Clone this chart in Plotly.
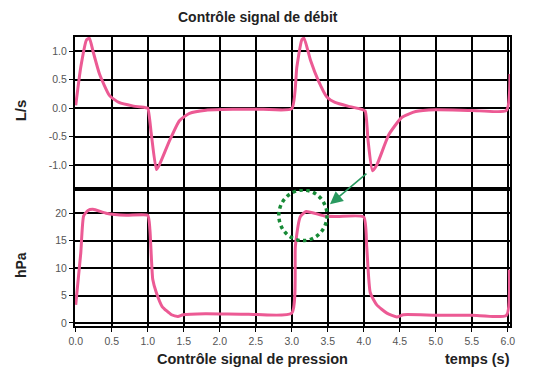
import plotly.graph_objects as go
from plotly.subplots import make_subplots

# ---- data ----
t_flow = [0.0, 0.07, 0.15, 0.19, 0.24, 0.33, 0.47, 0.6, 0.79, 0.96, 1.0, 1.05, 1.12, 1.16,
          1.3, 1.44, 1.58, 1.81, 2.18, 2.6, 3.0, 3.07, 3.14, 3.17, 3.26, 3.37, 3.49, 3.6,
          3.78, 3.97, 4.02, 4.06, 4.12, 4.18, 4.35, 4.53, 4.72, 5.0, 5.5, 5.98, 6.03]
flow = [0.05, 0.72, 1.2, 1.23, 1.0, 0.6, 0.22, 0.1, 0.04, 0.01, 0.0, -0.46, -1.08, -1.0,
        -0.58, -0.22, -0.09, -0.035, -0.02, -0.02, -0.01, 0.72, 1.2, 1.23, 0.84, 0.48, 0.19, 0.1,
        0.035, -0.02, -0.05, -0.58, -1.1, -1.0, -0.46, -0.16, -0.06, -0.03, -0.04, -0.04, 0.6]

t_press = [0.0, 0.07, 0.11, 0.17, 0.24, 0.42, 0.7, 1.0, 1.03, 1.07, 1.12, 1.2, 1.33, 1.42,
           1.49, 1.8, 2.4, 3.0, 3.05, 3.12, 3.2, 3.45, 3.63, 4.0, 4.04, 4.09, 4.18, 4.32,
           4.46, 4.55, 5.0, 5.5, 5.98, 6.02]
press = [3.3, 12.7, 19.5, 20.5, 20.7, 20.0, 19.6, 19.6, 17.0, 7.9, 5.5, 3.0, 1.5, 1.2,
         1.5, 1.7, 1.6, 1.8, 14.0, 19.4, 20.3, 19.5, 19.4, 19.3, 14.0, 5.5, 3.3, 1.8,
         1.1, 1.5, 1.4, 1.4, 1.4, 9.7]

x_ticks = [0.0, 0.5, 1.0, 1.5, 2.0, 2.5, 3.0, 3.5, 4.0, 4.5, 5.0, 5.5, 6.0]
x_labels = ["0.0", "0.5", "1.0", "1.5", "2.0", "2.5", "3.0", "3.5", "4.0", "4.5", "5.0", "5.5", "6.0"]
flow_ticks = [1.0, 0.5, 0.0, -0.5, -1.0]
flow_labels = ["1.0", "0.5", "0.0", "-0.5", "-1.0"]
press_ticks = [0, 5, 10, 15, 20]
press_labels = ["0", "5", "10", "15", "20"]

PINK = "#ec5a94"
FONT = "Liberation Sans, Arial, sans-serif"

fig = make_subplots(rows=2, cols=1, shared_xaxes=True, vertical_spacing=0,
                    row_heights=[152, 137])

fig.add_trace(go.Scatter(x=t_flow, y=flow, mode="lines",
                         line=dict(color=PINK, width=3, shape="spline", smoothing=0.5),
                         showlegend=False), row=1, col=1)
fig.add_trace(go.Scatter(x=t_press, y=press, mode="lines",
                         line=dict(color=PINK, width=3, shape="spline", smoothing=0.5),
                         showlegend=False), row=2, col=1)

axis_common = dict(showline=True, mirror=True, linecolor="black", linewidth=2,
                   showgrid=True, gridcolor="black", gridwidth=1.5,
                   zeroline=False, ticks="outside", ticklen=4, tickcolor="black",
                   tickwidth=1, tickfont=dict(family=FONT, size=10.5, color="#555"))

fig.update_xaxes(range=[-0.01, 6.03], tickvals=x_ticks, ticktext=x_labels, **axis_common)
fig.update_xaxes(showticklabels=False, ticks="", row=1, col=1)
fig.update_yaxes(range=[-1.42, 1.25], tickvals=flow_ticks, ticktext=flow_labels,
                 row=1, col=1, **axis_common)
fig.update_yaxes(range=[-0.55, 24.4], tickvals=press_ticks, ticktext=press_labels,
                 row=2, col=1, **axis_common)

# highlight circle and arrow
fig.add_shape(type="circle", xref="x2", yref="y2", x0=2.82, x1=3.49, y0=15.0, y1=24.2,
              line=dict(color="#178a36", width=3.5, dash="dot"))
fig.add_annotation(x=3.53, y=21.6, xref="x2", yref="y2", ax=38, ay=-32,
                   showarrow=True, arrowhead=2, arrowsize=1.6, arrowwidth=1.6,
                   arrowcolor="#2a9a60", text="")

def label(text, x, y, size, angle=0):
    fig.add_annotation(text=f"<b>{text}</b>", x=x, y=y, xref="paper", yref="paper",
                       showarrow=False, textangle=angle, xanchor="center", yanchor="middle",
                       font=dict(family=FONT, size=size, color="#222"))

label("Contrôle signal de débit", 0.421, 1.069, 14)
label("Contrôle signal de pression", 0.409, -0.113, 14.5)
label("temps (s)", 0.926, -0.113, 14.5)
label("L/s", -0.126, 0.747, 15, -90)
label("hPa", -0.124, 0.211, 14, -90)

fig.update_layout(width=548, height=369, margin=dict(l=75, r=38, t=37, b=43),
                  paper_bgcolor="white", plot_bgcolor="white")

fig.write_html("out.html", config={"displayModeBar": False},
               post_script="document.body.style.margin='0';document.body.style.overflow='hidden';")
